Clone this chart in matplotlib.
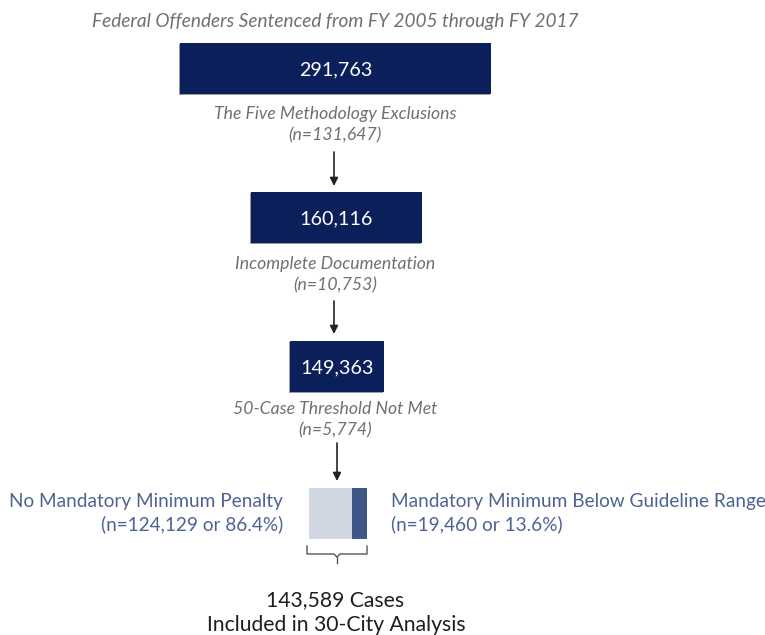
import matplotlib.pyplot as plt
from matplotlib.patches import Rectangle

plt.rcParams['font.family'] = ['Lato', 'DejaVu Sans']

# data
title = "Federal Offenders Sentenced from FY 2005 through FY 2017"
stage_counts = [291763, 160116, 149363]
exclusion_labels = ["The Five Methodology Exclusions",
                    "Incomplete Documentation",
                    "50-Case Threshold Not Met"]
exclusion_counts = [131647, 10753, 5774]
split_labels = ["No Mandatory Minimum Penalty",
                "Mandatory Minimum Below Guideline Range"]
split_counts = [124129, 19460]
split_pcts = [86.4, 13.6]
final_count = 143589

# layout (pixel units, y going down)
box_left = [180, 251, 290]
box_width = [311, 171, 94]
box_top = [43, 192, 341]
box_h = 51
excl_y = [114, 264, 409]
arrow_x = [334, 334, 337]
arrow_y = [(152, 186), (301, 334), (443, 481)]
bar_left, bar_top, bar_h = 309, 488, 51
bar_widths = [43, 15]

navy = '#0b1f5b'
grey_txt = '#707070'
blue_txt = '#4f6393'
light_bar = '#d1d6e3'
dark_bar = '#3f5689'

fig = plt.figure(figsize=(7.65, 6.35), dpi=100)
ax = fig.add_axes([0, 0, 1, 1])
ax.set_xlim(0, 765)
ax.set_ylim(635, 0)
ax.axis('off')

ax.text(335, 21, title, ha='center', va='center', fontsize=13.7,
        style='italic', color=grey_txt)

for i in range(3):
    # soft shadow then box
    ax.add_patch(Rectangle((box_left[i] - 1, box_top[i] + 1), box_width[i], box_h,
                           facecolor='#9a9a9a', edgecolor='none'))
    ax.add_patch(Rectangle((box_left[i], box_top[i]), box_width[i], box_h,
                           facecolor=navy, edgecolor='none'))
    ax.text(box_left[i] + box_width[i] / 2, box_top[i] + box_h / 2 + 1,
            f"{stage_counts[i]:,}", ha='center', va='center',
            fontsize=14.2, color='white')
    ax.text(335, excl_y[i], exclusion_labels[i], ha='center', va='center',
            fontsize=12.7, style='italic', color=grey_txt)
    ax.text(335, excl_y[i] + 21, f"(n={exclusion_counts[i]:,})", ha='center',
            va='center', fontsize=12.7, style='italic', color=grey_txt)
    ax.annotate('', xy=(arrow_x[i], arrow_y[i][1]), xytext=(arrow_x[i], arrow_y[i][0]),
                arrowprops=dict(arrowstyle='-|>', color='#222222', lw=1.2,
                                mutation_scale=12, shrinkA=0, shrinkB=0))

# final split bar
ax.add_patch(Rectangle((bar_left, bar_top), bar_widths[0], bar_h,
                       facecolor=light_bar, edgecolor='none'))
ax.add_patch(Rectangle((bar_left + bar_widths[0], bar_top), bar_widths[1], bar_h,
                       facecolor=dark_bar, edgecolor='none'))

lab_kw = dict(va='center', fontsize=13.7, color=blue_txt)
ax.text(283, 502, split_labels[0], ha='right', **lab_kw)
ax.text(283, 524, f"(n={split_counts[0]:,} or {split_pcts[0]}%)", ha='right', **lab_kw)
ax.text(391, 502, split_labels[1], ha='left', **lab_kw)
ax.text(391, 524, f"(n={split_counts[1]:,} or {split_pcts[1]}%)", ha='left', **lab_kw)

# brace under bar
bx0, bx1 = 307, 367
bm = (bx0 + bx1) / 2
ax.plot([bx0, bx0, bm - 3, bm, bm + 3, bx1, bx1],
        [546, 554, 554, 557, 554, 554, 546], color='#555555', lw=1)
ax.plot([bm, bm], [557, 563], color='#555555', lw=1)

ax.text(335, 600, f"{final_count:,} Cases", ha='center', va='center',
        fontsize=15.2, color='#1e1e1e')
ax.text(336, 625, "Included in 30-City Analysis", ha='center', va='center',
        fontsize=15.2, color='#1e1e1e')

fig.savefig('out.png', dpi=100, facecolor='white')
